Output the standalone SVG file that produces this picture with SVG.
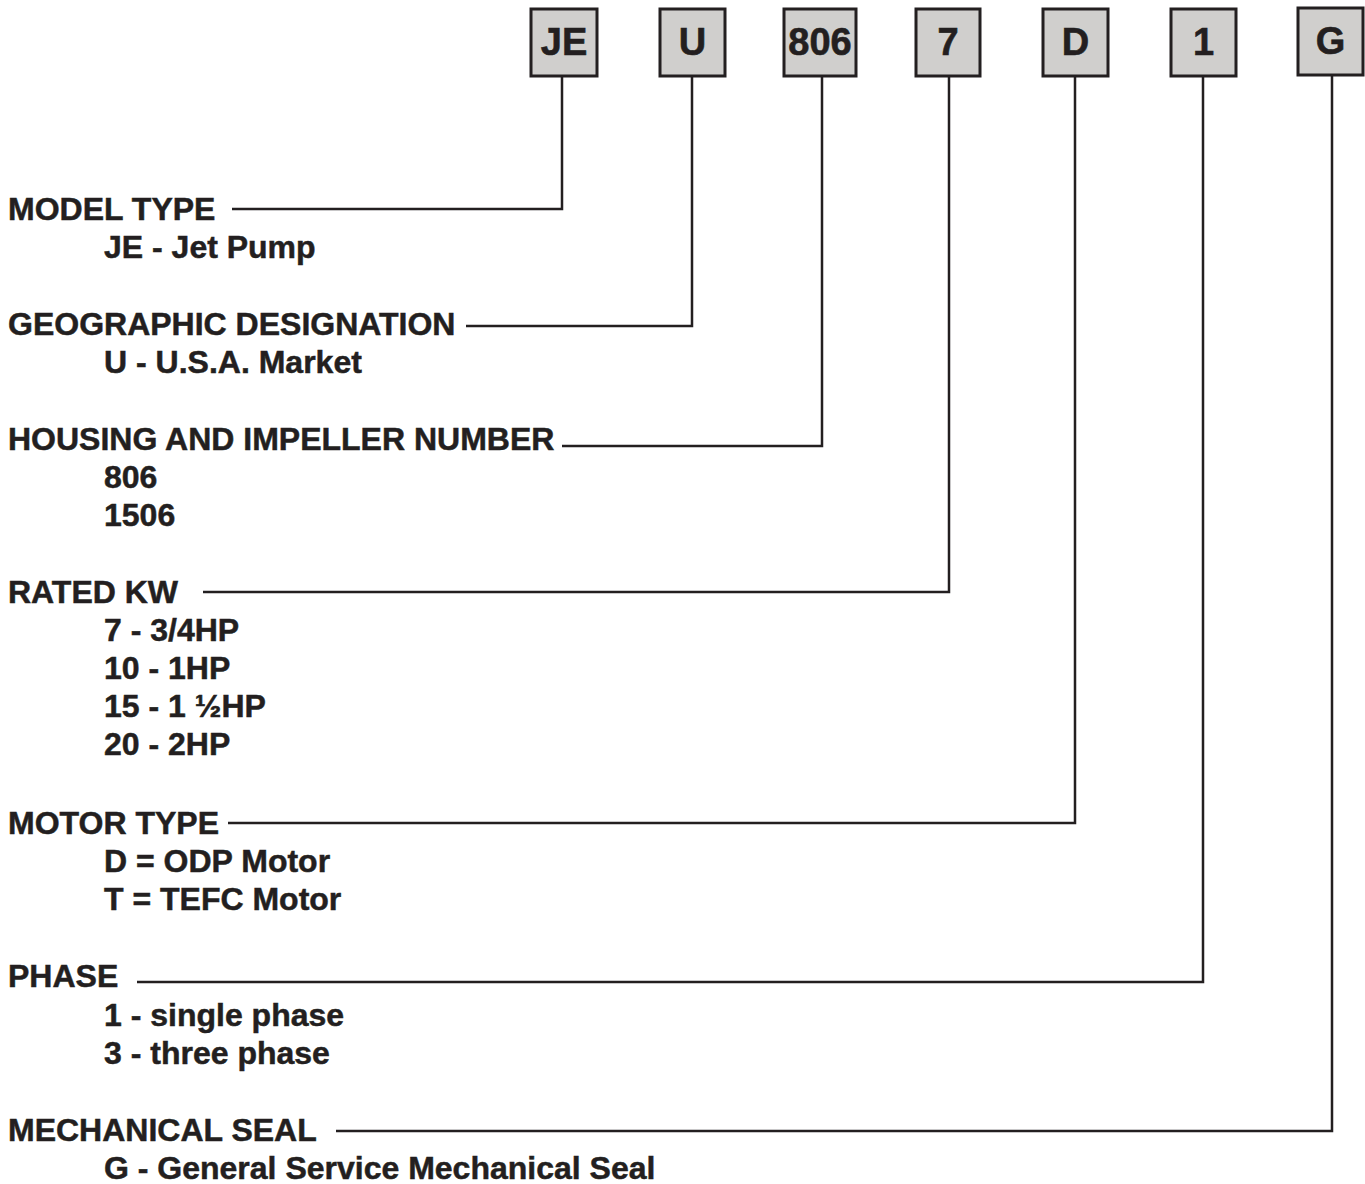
<svg xmlns="http://www.w3.org/2000/svg" width="1365" height="1184" viewBox="0 0 1365 1184">
<style>
.box{fill:#d0cfcd;stroke:#231f20;stroke-width:3}
.bl{font-family:"Liberation Sans",Arial,sans-serif;font-weight:bold;font-size:38px;fill:#231f20;stroke:#231f20;stroke-width:0.6;text-anchor:middle}
.h{font-family:"Liberation Sans",Arial,sans-serif;font-weight:bold;font-size:32px;fill:#231f20;stroke:#231f20;stroke-width:0.5}
.c{fill:none;stroke:#231f20;stroke-width:2.5}
</style>
<rect width="1365" height="1184" fill="#fff"/>
<g id="connectors">
<path class="c" d="M562 76V209H232"/>
<path class="c" d="M692 76V326H466"/>
<path class="c" d="M822 76V446H562"/>
<path class="c" d="M949 76V592H203"/>
<path class="c" d="M1075 76V823H228"/>
<path class="c" d="M1203 76V982H137"/>
<path class="c" d="M1332 75V1131H336"/>
</g>
<g id="box-JE"><rect class="box" x="531" y="9" width="66" height="67"/><text class="bl" x="564" y="55">JE</text></g>
<g id="box-U"><rect class="box" x="660" y="9" width="65" height="67"/><text class="bl" x="692.5" y="55">U</text></g>
<g id="box-806"><rect class="box" x="784" y="9" width="72" height="67"/><text class="bl" x="820" y="55">806</text></g>
<g id="box-7"><rect class="box" x="916" y="9" width="64" height="67"/><text class="bl" x="948" y="55">7</text></g>
<g id="box-D"><rect class="box" x="1043" y="9" width="65" height="67"/><text class="bl" x="1075.5" y="55">D</text></g>
<g id="box-1"><rect class="box" x="1171" y="9" width="65" height="67"/><text class="bl" x="1203.5" y="55">1</text></g>
<g id="box-G"><rect class="box" x="1298" y="8" width="65" height="67"/><text class="bl" x="1330.5" y="54">G</text></g>
<g id="model-type"><text class="h" x="8" y="220">MODEL TYPE</text><text class="h" x="104" y="258">JE - Jet Pump</text></g>
<g id="geographic"><text class="h" x="8" y="335">GEOGRAPHIC DESIGNATION</text><text class="h" x="104" y="373">U - U.S.A. Market</text></g>
<g id="housing"><text class="h" x="8" y="450">HOUSING AND IMPELLER NUMBER</text><text class="h" x="104" y="488">806</text><text class="h" x="104" y="526">1506</text></g>
<g id="rated-kw"><text class="h" x="8" y="603">RATED KW</text><text class="h" x="104" y="641">7 - 3/4HP</text><text class="h" x="104" y="679">10 - 1HP</text><text class="h" x="104" y="717">15 - 1 ½HP</text><text class="h" x="104" y="755">20 - 2HP</text></g>
<g id="motor-type"><text class="h" x="8" y="834">MOTOR TYPE</text><text class="h" x="104" y="872">D = ODP Motor</text><text class="h" x="104" y="910">T = TEFC Motor</text></g>
<g id="phase"><text class="h" x="8" y="987">PHASE</text><text class="h" x="104" y="1026">1 - single phase</text><text class="h" x="104" y="1064">3 - three phase</text></g>
<g id="mech-seal"><text class="h" x="8" y="1141">MECHANICAL SEAL</text><text class="h" x="104" y="1179">G - General Service Mechanical Seal</text></g>
</svg>
